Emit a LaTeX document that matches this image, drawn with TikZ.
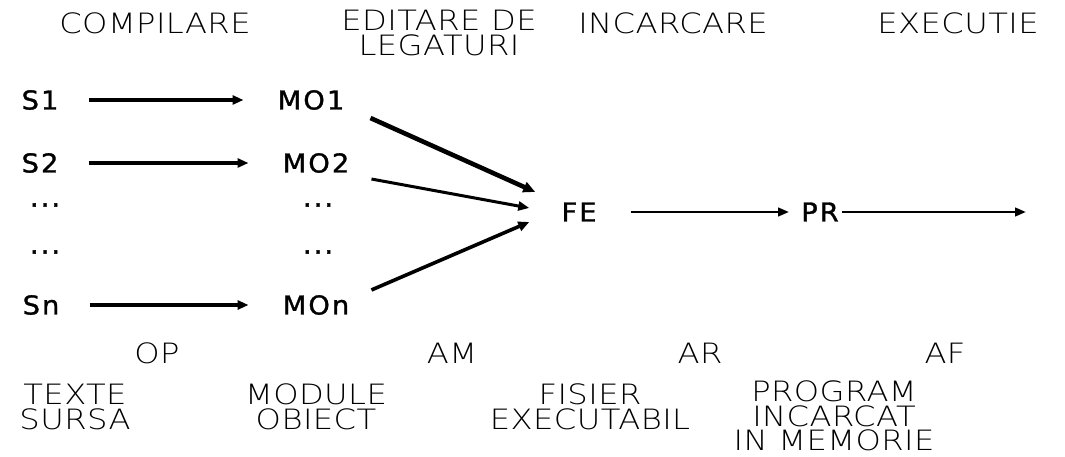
\documentclass[tikz,border=0pt]{standalone}
\usepackage{fontspec}
\setmainfont{DejaVu Sans}
\newfontfamily\capfont[FakeStretch=1.15,LetterSpace=1.5]{DejaVu Sans ExtraLight}
\newfontfamily\labfont[FakeStretch=1.05,LetterSpace=8,FakeBold=1.2]{DejaVu Sans}
\usetikzlibrary{arrows.meta}
\begin{document}
\begin{tikzpicture}[x=1pt,y=-1pt,
  capt/.style={font=\capfont\fontsize{28}{24.5}\selectfont, inner sep=0pt, align=center},
  lab/.style={font=\labfont\fontsize{26}{26}\selectfont, inner sep=0pt},
  arr/.style={line width=3.2pt, -{Triangle[length=11pt,width=9pt]}},
  thinarr/.style={line width=2.6pt, -{Triangle[length=11pt,width=8.5pt]}}]
\path[use as bounding box, fill=white] (0,0) rectangle (1065,457);
% top captions
\node[capt] (comp) at (155,23) {COMPILARE};
\node[capt] (edit) at (439,33) {EDITARE DE\\LEGATURI};
\node[capt] (inc) at (673,23) {INCARCARE};
\node[capt] (exe) at (958,23) {EXECUTIE};
% left column
\node[lab] (s1) at (40,100) {S1};
\node[lab] (s2) at (40,163) {S2};
\node[lab] (d1) at (45,205) {...};
\node[lab] (d2) at (45,252) {...};
\node[lab] (sn) at (41,305) {Sn};
% second column
\node[lab] (mo1) at (311,100) {MO1};
\node[lab] (mo2) at (316,163) {MO2};
\node[lab] (d3) at (318,205) {...};
\node[lab] (d4) at (318,252) {...};
\node[lab] (mon) at (316,305) {MOn};
% right
\node[lab] (fe) at (579,212) {FE};
\node[lab] (pr) at (820,212) {PR};
\coordinate (out) at (1026,212);
% arrows
\draw[arr] ([xshift=30pt]s1.east) -- ([xshift=-34pt]mo1.west);
\draw[arr] ([xshift=30pt]s2.east) -- ([xshift=-34pt]mo2.west);
\draw[arr] ([xshift=30pt]sn.east) -- ([xshift=-34pt]mon.west);
\draw[line width=4.6pt, -{Triangle[length=12pt,width=10.5pt]}] ([shift={(26,8)}]mo1.south east) -- ([shift={(-26,-20)}]fe.west);
\draw[line width=3pt, -{Triangle[length=11pt,width=9pt]}] ([shift={(22,6)}]mo2.south east) -- ([shift={(-32,-4)}]fe.west);
\draw[line width=3.6pt, -{Triangle[length=11pt,width=9.5pt]}] ([shift={(22,-5)}]mon.north east) -- ([shift={(-32,10)}]fe.west);
\draw[thinarr] ([xshift=34pt]fe.east) -- ([xshift=-12pt]pr.west);
\draw[thinarr] ([xshift=3pt]pr.east) -- (out);
% bottom captions
\node[capt] (op) at (157,353) {OP};
\node[capt] (am) at (452,353) {AM};
\node[capt] (ar) at (700,353) {AR};
\node[capt] (af) at (945,353) {AF};
\node[capt] (ts) at (75,407) {TEXTE\\SURSA};
\node[capt] (mob) at (316,407) {MODULE\\OBIECT};
\node[capt] (fex) at (590,407) {FISIER\\EXECUTABIL};
\node[capt] (pim) at (834,416) {PROGRAM\\INCARCAT\\IN MEMORIE};
\end{tikzpicture}
\end{document}
